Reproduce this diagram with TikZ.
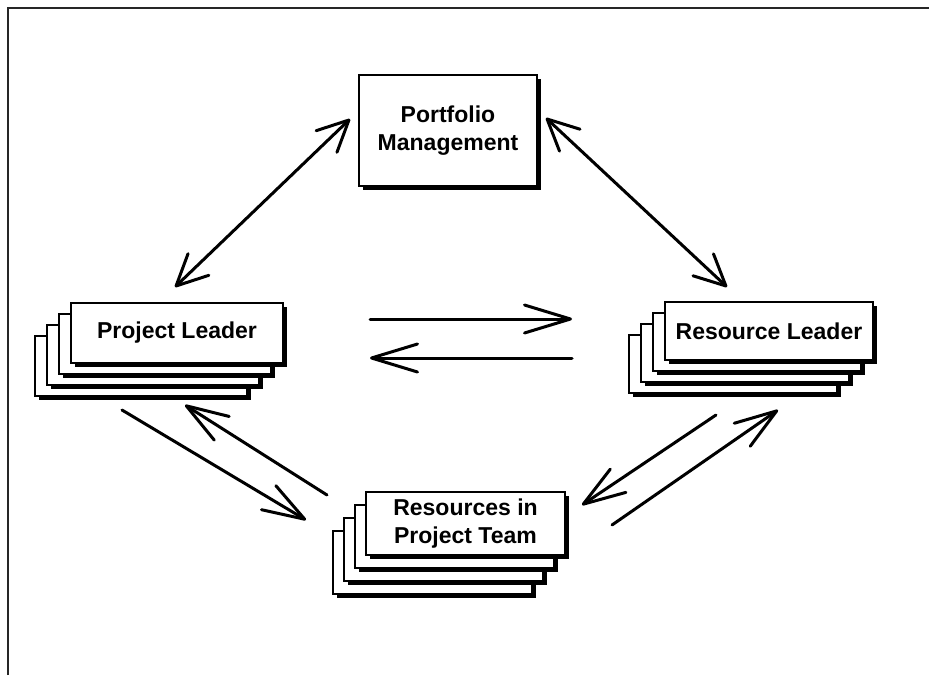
\documentclass[tikz,border=0pt]{standalone}
\usepackage{fontspec}
\setmainfont{Liberation Sans}
\usetikzlibrary{arrows.meta,shadows}
\tikzset{
  card/.style={draw=black, line width=1.3pt, fill=white, inner sep=0pt, outer sep=0pt,
    anchor=north west, align=center,
    font=\bfseries\fontsize{23}{28.5}\selectfont,
    drop shadow={shadow xshift=4pt, shadow yshift=-4pt, opacity=1, fill=black}},
  plcard/.style={card, minimum width=212pt, minimum height=60pt},
  rlcard/.style={card, minimum width=208pt, minimum height=58pt},
  rtcard/.style={card, minimum width=199pt, minimum height=63pt},
  conn/.style={line width=3pt, line cap=round, black},
  hbarb/.tip={Straight Barb[length=46pt,width=28pt,line cap=round,line join=round]},
  dbarb/.tip={Straight Barb[length=42pt,width=28pt,line cap=round,line join=round]},
  tbarb/.tip={Straight Barb[length=31pt,width=30pt,line cap=round,line join=round]},
}
\begin{document}
\begin{tikzpicture}[x=1pt,y=-1pt]
\useasboundingbox (0,0) rectangle (929,675);
\fill[white] (0,0) rectangle (929,675);
% frame
\draw[line width=2.4pt, black!85] (8,675) -- (8,8) -- (929,8);

% Portfolio Management
\node[card, minimum width=178pt, minimum height=111pt] (pm) at (359,75)
  {Portfolio\\Management};

% Project Leader stack
\node[plcard] (pl3) at (35,336) {};
\node[plcard] (pl2) at (47,325) {};
\node[plcard] (pl1) at (59,314) {};
\node[plcard] (pl) at (71,303) {Project Leader};

% Resource Leader stack
\node[rlcard] (rl3) at (629,335) {};
\node[rlcard] (rl2) at (641,324) {};
\node[rlcard] (rl1) at (653,313) {};
\node[rlcard] (rl) at (665,302) {Resource Leader};

% Resources in Project Team stack
\node[rtcard] (rt3) at (333,531) {};
\node[rtcard] (rt2) at (344,518) {};
\node[rtcard] (rt1) at (355,505) {};
\node[rtcard] (rt) at (366,492) {Resources in\\Project Team};

% connector end points
\coordinate (plpmA) at (175,287);
\coordinate (plpmB) at (350,119);
\coordinate (pmrlA) at (546,118);
\coordinate (pmrlB) at (727,287);
\coordinate (plrlA) at (370,319);
\coordinate (plrlB) at (572,319);
\coordinate (rlplA) at (572,358);
\coordinate (rlplB) at (370,358);
\coordinate (plrtA) at (122,410);
\coordinate (plrtB) at (306,520);
\coordinate (rtplA) at (327,495);
\coordinate (rtplB) at (185,405);
\coordinate (rlrtA) at (716,415);
\coordinate (rlrtB) at (582,505);
\coordinate (rtrlA) at (612,525);
\coordinate (rtrlB) at (778,410);

% connectors
\draw[conn, tbarb-tbarb] (plpmA) -- (plpmB);
\draw[conn, tbarb-tbarb] (pmrlA) -- (pmrlB);
\draw[conn, -hbarb] (plrlA) -- (plrlB);
\draw[conn, -hbarb] (rlplA) -- (rlplB);
\draw[conn, -dbarb] (plrtA) -- (plrtB);
\draw[conn, -dbarb] (rtplA) -- (rtplB);
\draw[conn, -dbarb] (rlrtA) -- (rlrtB);
\draw[conn, -dbarb] (rtrlA) -- (rtrlB);
\end{tikzpicture}
\end{document}
